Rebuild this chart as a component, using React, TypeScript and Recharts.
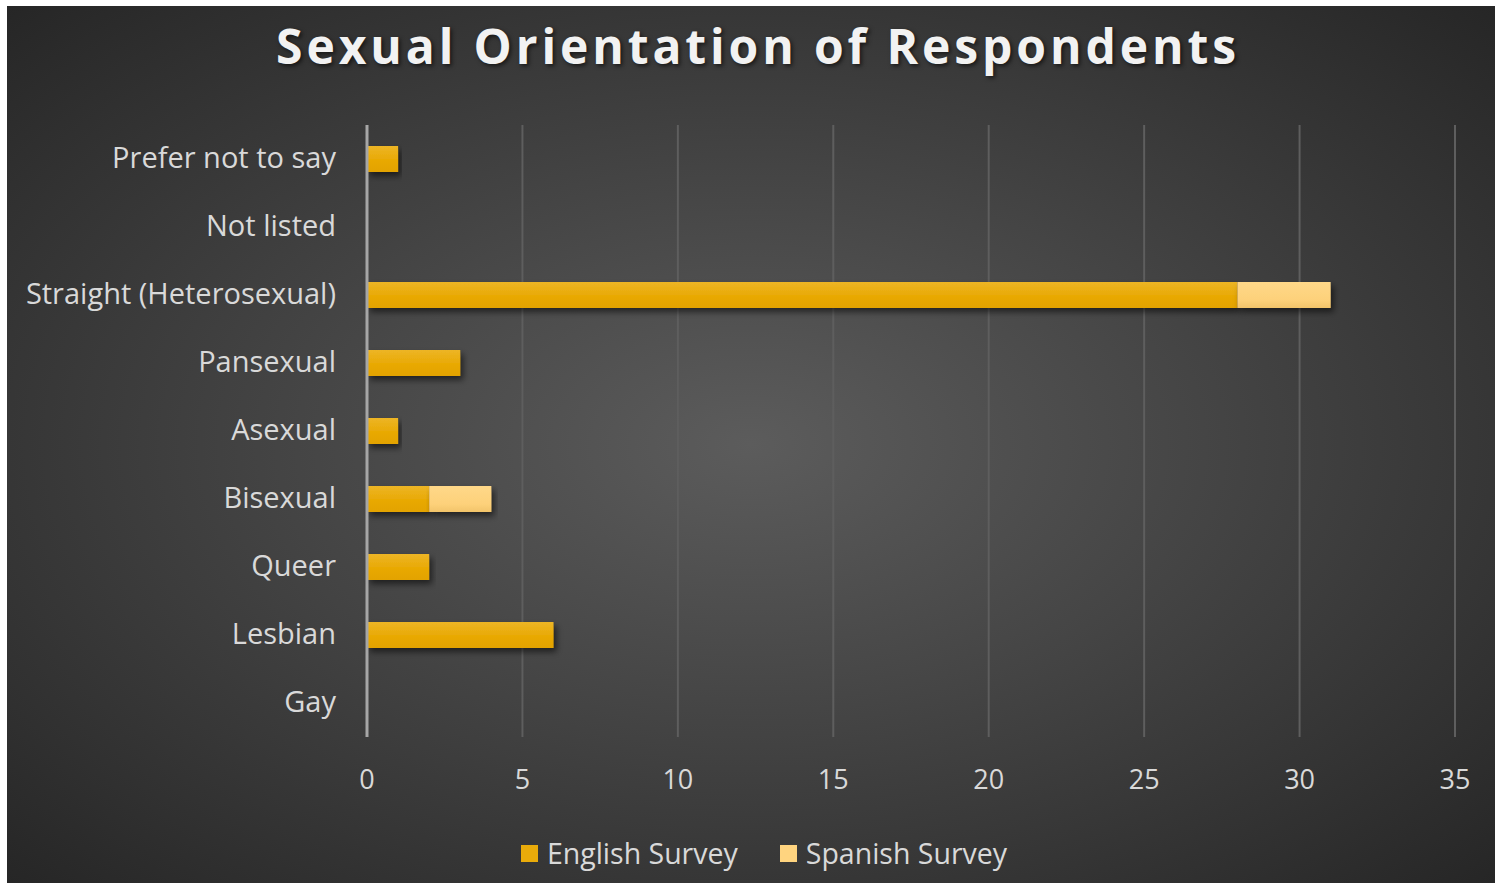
import { BarChart, Bar, XAxis, YAxis, CartesianGrid, Legend } from 'recharts';

const categories = [
  'Prefer not to say',
  'Not listed',
  'Straight (Heterosexual)',
  'Pansexual',
  'Asexual',
  'Bisexual',
  'Queer',
  'Lesbian',
  'Gay',
];
const englishSurvey = [1, 0, 28, 3, 1, 2, 2, 6, 0];
const spanishSurvey = [0, 0, 3, 0, 0, 2, 0, 0, 0];
const xTicks = [0, 5, 10, 15, 20, 25, 30, 35];

const chartData = categories.map((name, i) => ({
  name,
  english: englishSurvey[i],
  spanish: spanishSurvey[i],
}));

const FONT = '"Open Sans", "Noto Sans", sans-serif';
const ENGLISH = '#E9AB0A';
const SPANISH = '#FFD47F';

function LegendBox() {
  const items = [
    { label: 'English Survey', color: ENGLISH },
    { label: 'Spanish Survey', color: SPANISH },
  ];
  return (
    <div style={{ display: 'flex', justifyContent: 'center', alignItems: 'center', height: 60, paddingLeft: 66 }}>
      {items.map((it) => (
        <div key={it.label} style={{ display: 'flex', alignItems: 'center', margin: '0 21px' }}>
          <span style={{ width: 17, height: 17, background: it.color, marginRight: 9, display: 'inline-block' }} />
          <span style={{ color: '#d9d9d9', fontSize: 28.5, fontFamily: FONT }}>{it.label}</span>
        </div>
      ))}
    </div>
  );
}

export default function App() {
  return (
    <div style={{ position: 'fixed', left: 0, top: 0, width: 1502, height: 884, background: '#fff' }}>
      <div
        style={{
          position: 'absolute',
          left: 7,
          top: 6,
          width: 1488,
          height: 877,
          background: 'radial-gradient(ellipse at 50% 50%, #5c5c5c 0%, #444 45%, #262626 100%)',
        }}
      >
        <div
          style={{
            position: 'absolute',
            top: 7,
            left: 7,
            width: 1488,
            textAlign: 'center',
            color: '#f2f2f2',
            fontFamily: FONT,
            fontWeight: 700,
            fontSize: 48,
            letterSpacing: 3.9,
            textShadow: '2px 2px 4px rgba(0,0,0,0.6)',
          }}
        >
          Sexual Orientation of Respondents
        </div>
        <BarChart
          width={1488}
          height={877}
          data={chartData}
          layout="vertical"
          margin={{ top: 119, right: 40, left: 0, bottom: 0 }}
          barSize={26}
        >
          <defs>
            <linearGradient id="engGrad" x1="0" y1="0" x2="0" y2="1">
              <stop offset="0%" stopColor="#EDB526" />
              <stop offset="60%" stopColor="#E8A800" />
              <stop offset="100%" stopColor="#E3A300" />
            </linearGradient>
            <linearGradient id="spaGrad" x1="0" y1="0" x2="0" y2="1">
              <stop offset="0%" stopColor="#FFD889" />
              <stop offset="70%" stopColor="#FDD17A" />
              <stop offset="100%" stopColor="#F2C46A" />
            </linearGradient>
            <filter id="barShadow" x="-5%" y="-30%" width="115%" height="180%">
              <feDropShadow dx="3" dy="4" stdDeviation="3" floodColor="#000" floodOpacity="0.55" />
            </filter>
          </defs>
          <CartesianGrid horizontal={false} stroke="#5e5e5e" strokeWidth={2} />
          <XAxis
            type="number"
            domain={[0, 35]}
            ticks={xTicks}
            axisLine={false}
            tickLine={false}
            height={86}
            tickMargin={27}
            tick={{ fill: '#d9d9d9', fontSize: 27, fontFamily: FONT }}
          />
          <YAxis
            type="category"
            dataKey="name"
            width={360}
            axisLine={{ stroke: '#a6a6a6', strokeWidth: 3 }}
            tickLine={false}
            tickSize={0}
            tickMargin={31}
            dy={-1}
            tick={{ fill: '#d9d9d9', fontSize: 29, fontFamily: FONT }}
          />
          <Legend verticalAlign="bottom" height={60} content={() => <LegendBox />} />
          <Bar dataKey="english" stackId="a" fill="url(#engGrad)" filter="url(#barShadow)" isAnimationActive={false} />
          <Bar dataKey="spanish" stackId="a" fill="url(#spaGrad)" filter="url(#barShadow)" isAnimationActive={false} />
        </BarChart>
      </div>
    </div>
  );
}
